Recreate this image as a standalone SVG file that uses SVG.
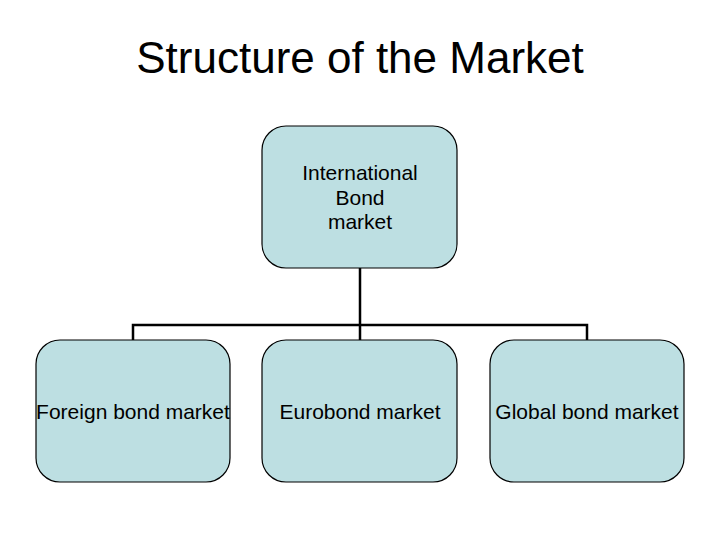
<svg xmlns="http://www.w3.org/2000/svg" width="720" height="540" viewBox="0 0 720 540">
<style>
.box{fill:#bddfe2;stroke:#000;stroke-width:1.2}
.t{font-family:"Liberation Sans",Arial,sans-serif;font-size:21px;fill:#000;text-anchor:middle}
.c{stroke:#000;stroke-width:2.5;fill:none}
</style>
<rect width="720" height="540" fill="#fff"/>
<text x="360" y="73" font-family="Liberation Sans,Arial,sans-serif" font-size="44" text-anchor="middle">Structure of the Market</text>
<g id="connectors">
<path class="c" d="M360 268 V340 M133 340 V325 H587 V340"/>
</g>
<g id="intl">
<rect class="box" x="262" y="126" width="195" height="142" rx="24"/>
<text class="t" x="360" y="180">International</text>
<text class="t" x="360" y="205">Bond</text>
<text class="t" x="360" y="229">market</text>
</g>
<g id="foreign">
<rect class="box" x="36" y="340" width="194" height="142" rx="24"/>
<text class="t" x="133" y="419">Foreign bond market</text>
</g>
<g id="euro">
<rect class="box" x="262" y="340" width="195" height="142" rx="24"/>
<text class="t" x="360" y="419">Eurobond market</text>
</g>
<g id="global">
<rect class="box" x="490" y="340" width="194" height="142" rx="24"/>
<text class="t" x="587" y="419">Global bond market</text>
</g>
</svg>
